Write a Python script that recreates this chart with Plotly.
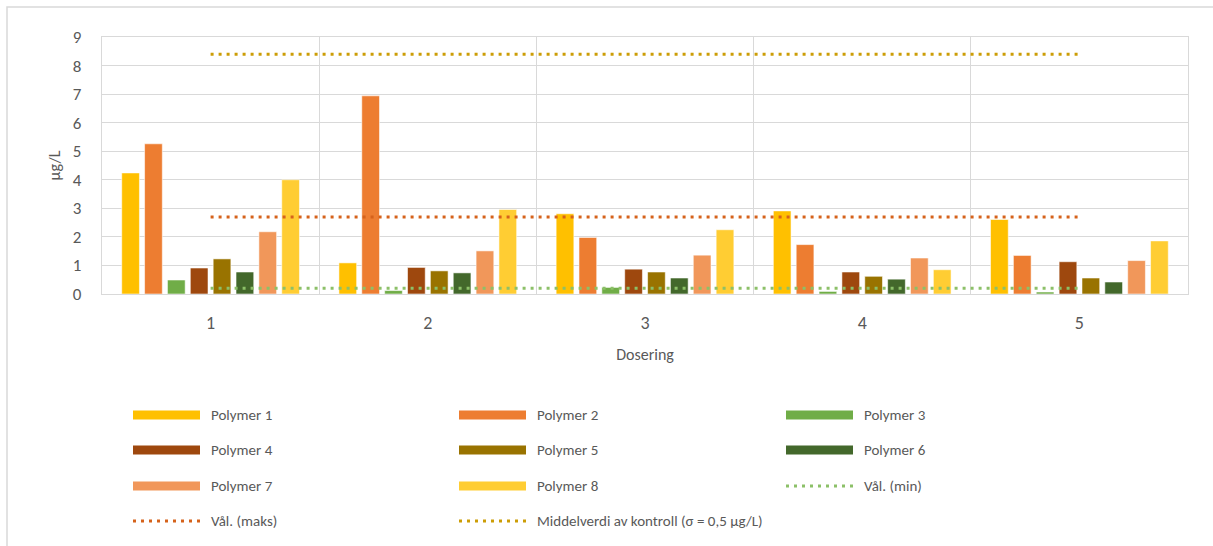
import plotly.graph_objects as go

# Dosering categories on the x axis
doses = ["1", "2", "3", "4", "5"]

# Measured concentrations (µg/L) per polymer and dose
polymer_1 = [4.24, 1.09, 2.81, 2.91, 2.61]
polymer_2 = [5.26, 6.94, 1.98, 1.73, 1.35]
polymer_3 = [0.49, 0.12, 0.23, 0.09, 0.07]
polymer_4 = [0.91, 0.93, 0.87, 0.77, 1.13]
polymer_5 = [1.23, 0.81, 0.77, 0.62, 0.56]
polymer_6 = [0.77, 0.74, 0.56, 0.52, 0.42]
polymer_7 = [2.18, 1.51, 1.36, 1.26, 1.17]
polymer_8 = [4.00, 2.96, 2.25, 0.85, 1.86]

# Reference levels (µg/L)
val_min = [0.2, 0.2, 0.2, 0.2, 0.2]
val_maks = [2.7, 2.7, 2.7, 2.7, 2.7]
middelverdi = [8.4, 8.4, 8.4, 8.4, 8.4]

bar_names = ["Polymer 1", "Polymer 2", "Polymer 3", "Polymer 4",
             "Polymer 5", "Polymer 6", "Polymer 7", "Polymer 8"]
bar_values = [polymer_1, polymer_2, polymer_3, polymer_4,
              polymer_5, polymer_6, polymer_7, polymer_8]
bar_colors = ["#FFC000", "#ED7D31", "#70AD47", "#9E480E",
              "#997300", "#43682B", "#F1975A", "#FFCD33"]

line_names = ["Vål. (min)", "Vål. (maks)", "Middelverdi av kontroll (σ = 0,5 µg/L)"]
line_values = [val_min, val_maks, middelverdi]
line_colors = ["#8CC068", "#D5621B", "#CC9D06"]

FONT = "Carlito, Calibri, Lato, sans-serif"
TEXT = "#595959"
GRID = "#D9D9D9"

W, H = 1213, 546
ML, MR, MT, MB = 102, 25, 37, 252
PW, PH = W - ML - MR, H - MT - MB


def px(x):
    return (x - ML) / PW


def py(y):
    return (H - MB - y) / PH


fig = go.Figure()

for name, vals, col in zip(bar_names, bar_values, bar_colors):
    fig.add_trace(go.Bar(
        x=doses, y=vals, name=name, showlegend=False,
        marker=dict(color=col, line=dict(color="rgba(255,255,255,0.55)", width=1)),
    ))

DOT = "3px,5px"
for name, vals, col in zip(line_names, line_values, line_colors):
    fig.add_trace(go.Scatter(
        x=doses, y=vals, name=name, mode="lines", showlegend=False,
        line=dict(color=col, width=3, dash=DOT),
    ))

# Legend laid out in three columns below the plot
shapes = []
annotations = []
entries = [(n, c, "bar") for n, c in zip(bar_names, bar_colors)] + \
          [(n, c, "line") for n, c in zip(line_names, line_colors)]
col_x = [133, 459, 786]
row_y = [415, 450, 486, 521]
for i, (name, col, kind) in enumerate(entries):
    cx = col_x[i % 3]
    cy = row_y[i // 3]
    if kind == "bar":
        shapes.append(dict(type="rect", xref="paper", yref="paper",
                           x0=px(cx), x1=px(cx + 67), y0=py(cy + 4.5), y1=py(cy - 4.5),
                           fillcolor=col, line=dict(width=0)))
    else:
        shapes.append(dict(type="line", xref="paper", yref="paper",
                           x0=px(cx), x1=px(cx + 68), y0=py(cy), y1=py(cy),
                           line=dict(color=col, width=3, dash=DOT)))
    annotations.append(dict(text=name, xref="paper", yref="paper",
                            x=px(cx + 76), y=py(cy), xanchor="left", yanchor="middle",
                            showarrow=False, font=dict(family=FONT, size=15, color=TEXT)))

# Chart frame
shapes.append(dict(type="rect", xref="paper", yref="paper",
                   x0=px(7), x1=px(1260), y0=py(7), y1=py(600),
                   line=dict(color=GRID, width=1.5), fillcolor="rgba(0,0,0,0)", layer="below"))

fig.update_layout(
    width=W, height=H,
    margin=dict(l=ML, r=MR, t=MT, b=MB),
    paper_bgcolor="white", plot_bgcolor="white",
    barmode="group", bargap=0.158, bargroupgap=0.225,
    font=dict(family=FONT, color=TEXT),
    shapes=shapes, annotations=annotations,
    showlegend=False,
)

fig.update_xaxes(
    type="category", tickson="boundaries", ticks="",
    showgrid=True, gridcolor=GRID, gridwidth=1.3,
    showline=True, linecolor=GRID, linewidth=1.3, mirror=True,
    tickfont=dict(family=FONT, size=18, color=TEXT), ticklabelstandoff=12,
    title=dict(text="Dosering", font=dict(family=FONT, size=16, color=TEXT), standoff=16),
)
fig.update_yaxes(
    range=[0, 9], dtick=1, ticks="",
    showgrid=True, gridcolor=GRID, gridwidth=1.3,
    showline=True, linecolor=GRID, linewidth=1.3, mirror=True, zeroline=False,
    tickfont=dict(family=FONT, size=17, color=TEXT), ticklabelstandoff=16,
    title=dict(text="µg/L", font=dict(family=FONT, size=16, color=TEXT), standoff=8),
)

fig.write_html("out.html")
